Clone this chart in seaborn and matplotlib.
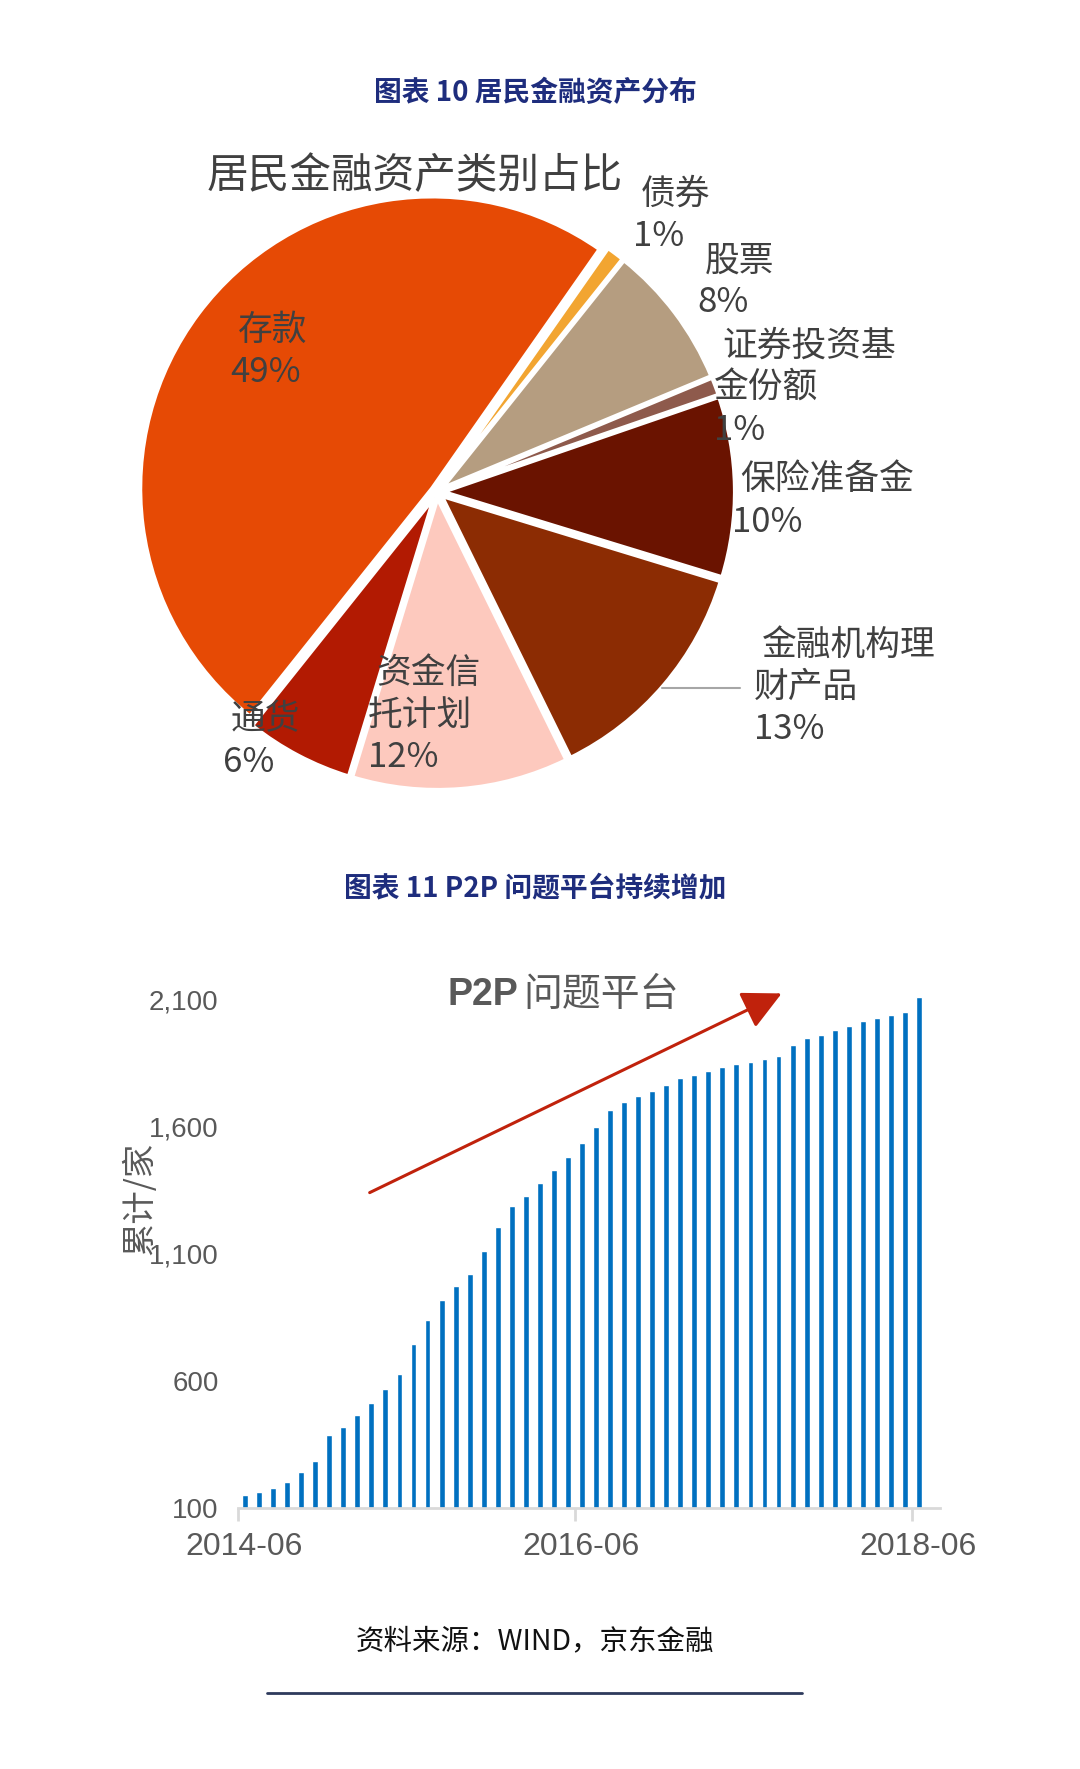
import pandas as pd
import matplotlib
matplotlib.use("Agg")
import matplotlib.pyplot as plt
from matplotlib.lines import Line2D
import seaborn as sns

# =============================
# Data
# =============================
asset_types = ["债券", "股票", "证券投资基\n金份额", "保险准备金",
               "金融机构理\n财产品", "资金信\n托计划", "通货", "存款"]
asset_share = [1, 8, 1, 10, 13, 12, 6, 49]
asset_colors = ["#F2A531", "#B59D80", "#8E5A4C", "#6A1300",
                "#8C2C03", "#FDC9BE", "#B21A02", "#E64A05"]

months = pd.date_range("2014-06", "2018-06", freq="MS").strftime("%Y-%m").tolist()
problem_platforms = [150, 162, 178, 202, 240, 286, 389, 419, 465, 515,
                     569, 629, 744, 840, 920, 972, 1020, 1111, 1207, 1288,
                     1326, 1380, 1428, 1481, 1536, 1601, 1667, 1696, 1721, 1739,
                     1763, 1793, 1805, 1818, 1836, 1848, 1854, 1866, 1878, 1920,
                     1950, 1962, 1980, 1998, 2016, 2028, 2040, 2052, 2112]
y_ticks = [100, 600, 1100, 1600, 2100]
x_tick_months = ["2014-06", "2016-06", "2018-06"]

# =============================
# Style
# =============================
sns.set_theme(style="white")
plt.rcParams["font.family"] = ["Noto Sans CJK SC", "DejaVu Sans"]

W, H = 1080, 1769
fig = plt.figure(figsize=(W / 100, H / 100), dpi=100)
fig.patch.set_facecolor("white")


def fx(x):
    return x / W


def fy(y):
    return 1 - y / H


navy = "#1E2D7D"
label_gray = "#404040"

# =============================
# Chart 10 - pie
# =============================
fig.text(fx(535), fy(93), "图表 10 居民金融资产分布", ha="center", va="center",
         fontsize=20, fontweight="bold", color=navy)

R = 298
cx, cy = 437, 492
side = 2.2 * R
ax_pie = fig.add_axes([fx(cx - side / 2), fy(cy + side / 2), side / W, side / H])
ax_pie.pie(asset_share, colors=asset_colors, startangle=55, counterclock=False,
           explode=[0.02] * len(asset_share), radius=0.98,
           wedgeprops=dict(edgecolor="white", linewidth=3))
ax_pie.set_xlim(-1.1, 1.1)
ax_pie.set_ylim(-1.1, 1.1)
ax_pie.axis("off")

fig.text(fx(415), fy(177), "居民金融资产类别占比", ha="center", va="center",
         fontsize=30, color=label_gray)

# label anchors (left x, first line centre y) in pixels
label_pos = [(641, 194), (705, 261), (722, 346), (740, 480),
             (762, 645), (376, 673), (231, 720), (238, 330)]
line_step = 42
for name, share, (lx, ly) in zip(asset_types, asset_share, label_pos):
    lines = name.split("\n") + [f"{share}%"]
    for i, txt in enumerate(lines):
        dx = 0 if i == 0 else -8
        fig.text(fx(lx + dx), fy(ly + i * line_step), txt, ha="left", va="center",
                 fontsize=25, color=label_gray)

# leader line for 金融机构理财产品
fig.add_artist(Line2D([fx(662), fx(740)], [fy(688), fy(688)],
                      color="#A6A6A6", linewidth=1.5))

# =============================
# Chart 11 - bars
# =============================
fig.text(fx(535), fy(888), "图表 11 P2P 问题平台持续增加", ha="center", va="center",
         fontsize=20, fontweight="bold", color=navy)

ax_bar = fig.add_axes([fx(238), fy(1508), 702 / W, 521 / H])
df = pd.DataFrame({"month": months, "count": problem_platforms})
sns.barplot(data=df, x="month", y="count", color="#0070C0", saturation=1,
            width=0.42, ax=ax_bar)
ax_bar.set_xlim(-0.5, len(months) + 0.5)
ax_bar.set_ylim(100, 2150)
ax_bar.set_yticks(y_ticks)
ax_bar.set_yticklabels([f"{v:,}" for v in y_ticks], fontsize=20,
                       family="Liberation Sans", color="#595959")

# tick marks sit on category edges, labels slightly to the right of them
tick_idx = [months.index(m) for m in x_tick_months]
ax_bar.set_xticks([i - 0.5 for i in tick_idx])
ax_bar.set_xticklabels([])
ax_bar.set_xticks([i - 0.07 for i in tick_idx], minor=True)
ax_bar.set_xticklabels(x_tick_months, minor=True, fontsize=23,
                       family="Liberation Sans", color="#595959")
ax_bar.tick_params(axis="y", length=0, pad=14)
ax_bar.tick_params(axis="x", which="major", length=9, width=2, color="#D9D9D9",
                   direction="out", bottom=True)
ax_bar.tick_params(axis="x", which="minor", length=0, pad=17, bottom=True)
for s in ["top", "right", "left"]:
    ax_bar.spines[s].set_visible(False)
ax_bar.spines["bottom"].set_color("#D9D9D9")
ax_bar.spines["bottom"].set_linewidth(2)
ax_bar.set_xlabel("")
ax_bar.set_ylabel("")

fig.text(fx(140), fy(1198), "累计/家", rotation=90, ha="center", va="center",
         fontsize=24, color="#595959")

# annotation
ax_bar.text(0.298, 0.985, "P2P", transform=ax_bar.transAxes, ha="left", va="center",
            fontsize=27, fontweight="bold", family="Liberation Sans", color="#595959")
ax_bar.text(0.407, 0.985, "问题平台", transform=ax_bar.transAxes, ha="left", va="center",
            fontsize=28, color="#595959")
ax_bar.annotate("", xy=(0.778, 0.99), xytext=(0.184, 0.603),
                xycoords="axes fraction", textcoords="axes fraction",
                arrowprops=dict(arrowstyle="-|>,head_length=1.2,head_width=0.6",
                                color="#C0220C", lw=2.2, mutation_scale=20),
                annotation_clip=False)

# =============================
# Source + rule
# =============================
fig.text(fx(535), fy(1641), "资料来源：WIND，京东金融", ha="center", va="center",
         fontsize=20.5, color="#111111")
fig.add_artist(Line2D([fx(267), fx(802)], [fy(1693), fy(1693)],
                      color="#2E3A5C", linewidth=2))

fig.savefig("out.png", dpi=100, facecolor="white")
